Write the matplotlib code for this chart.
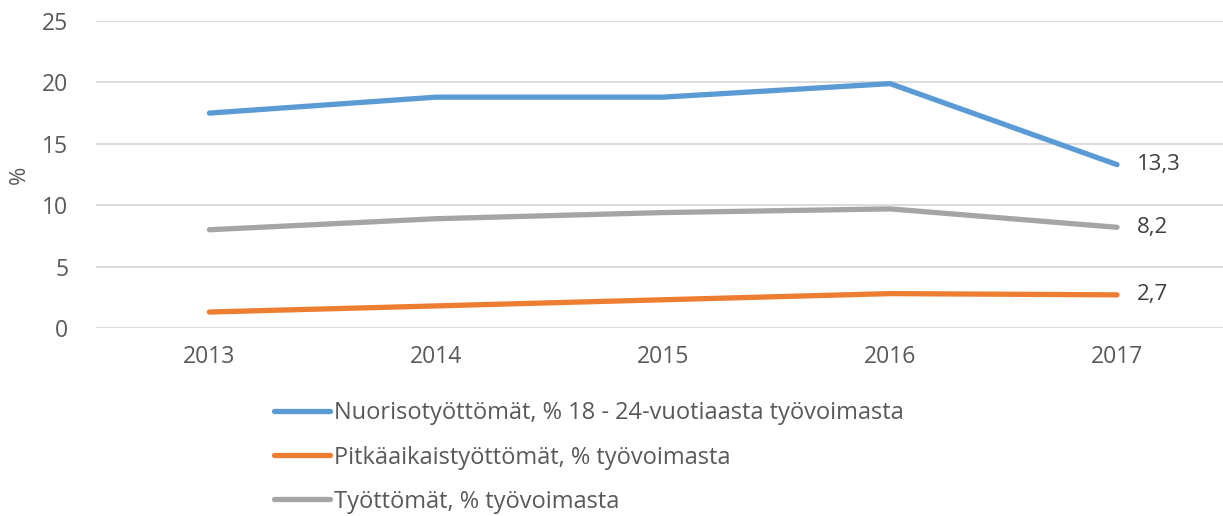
import matplotlib.pyplot as plt

vuodet = ["2013", "2014", "2015", "2016", "2017"]
nuoriso = [17.5, 18.8, 18.8, 19.9, 13.3]
pitkaaikais = [1.3, 1.8, 2.3, 2.8, 2.7]
tyottomat = [8.0, 8.9, 9.4, 9.7, 8.2]

nimet = ["Nuorisotyöttömät, % 18 - 24-vuotiaasta työvoimasta",
         "Pitkäaikaistyöttömät, % työvoimasta",
         "Työttömät, % työvoimasta"]
varit = ["#5B9BD5", "#ED7D31", "#A5A5A5"]

plt.rcParams['font.family'] = ['Open Sans', 'DejaVu Sans']

fig = plt.figure(figsize=(12.23, 5.16), dpi=100)
ax = fig.add_axes([96 / 1223, 1 - 328 / 516, 1127 / 1223, 307 / 516])

x = list(range(len(vuodet)))
sarjat = [nuoriso, pitkaaikais, tyottomat]
for arvot, nimi, vari in zip(sarjat, nimet, varit):
    ax.plot(x, arvot, color=vari, lw=3.8, solid_capstyle='round', label=nimi)
    ax.annotate(f"{arvot[-1]:.1f}".replace(".", ","), (x[-1], arvot[-1]),
                xytext=(14, 0), textcoords='offset points', va='center', ha='left',
                fontsize=16, color='#404040')

ax.set_ylim(0, 25)
ax.set_yticks([0, 5, 10, 15, 20, 25])
ax.set_xlim(-0.5, 4.5 - 7.5 / 227)
ax.set_xticks(x)
ax.set_xticklabels(vuodet)
ax.grid(axis='y', color='#D9D9D9', lw=1.3)
ax.set_axisbelow(True)
for s in ax.spines.values():
    s.set_visible(False)
ax.tick_params(length=0, labelsize=16.5, labelcolor='#595959')
ax.tick_params(axis='y', pad=20)
ax.tick_params(axis='x', pad=12)
ax.set_ylabel("%", fontsize=16, color='#595959')
ax.yaxis.set_label_coords(-66 / 1127, 0.5)

leg = fig.legend(loc='upper left', bbox_to_anchor=(265 / 1223, 1 - 392 / 516),
                 frameon=False, fontsize=17, handlelength=2.35, handletextpad=0.17,
                 labelspacing=0.85, borderaxespad=0)
for t in leg.get_texts():
    t.set_color('#595959')

fig.savefig("out.png", dpi=100)
